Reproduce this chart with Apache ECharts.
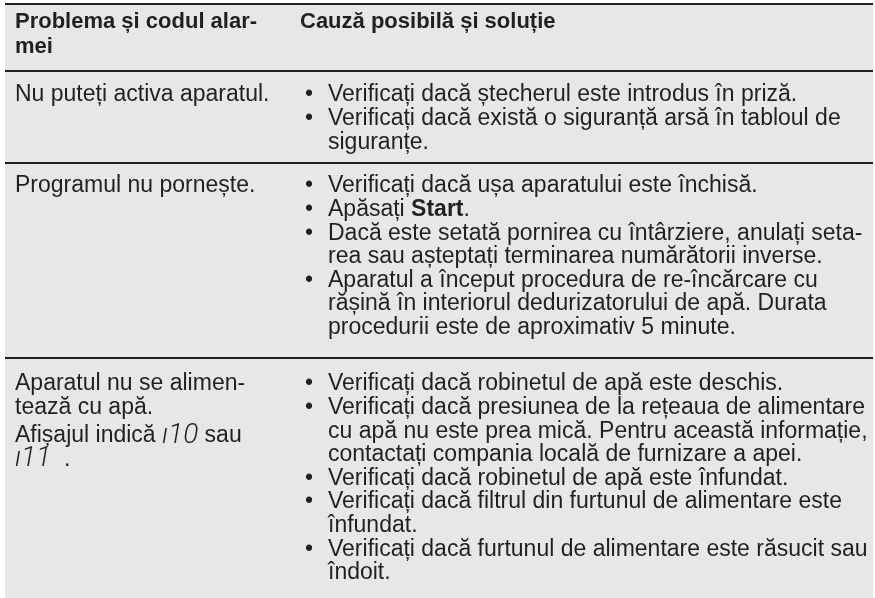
<!DOCTYPE html>
<html><head><meta charset="utf-8">
<script src="https://cdn.jsdelivr.net/npm/echarts@6/dist/echarts.min.js"></script>
<style>html,body{margin:0;padding:0;background:#fff}#c{width:875px;height:598px}</style>
</head><body><div id="c"></div>
<script>
// ---- content ----
const headerLeft = ['Problema și codul alar-', 'mei'];
const headerRight = ['Cauză posibilă și soluție'];
const problems = [
  [['Nu puteți activa aparatul.']],
  [['Programul nu pornește.']],
  [['Aparatul nu se alimen-', 'tează cu apă.'], ['Afișajul indică {seg|ı10} sau', '{seg|ı11}  .']]
];
const causes = [
  [['Verificați dacă ștecherul este introdus în priză.'],
   ['Verificați dacă există o siguranță arsă în tabloul de', 'siguranțe.']],
  [['Verificați dacă ușa aparatului este închisă.'],
   ['Apăsați {b|Start}.'],
   ['Dacă este setată pornirea cu întârziere, anulați seta-', 'rea sau așteptați terminarea numărătorii inverse.'],
   ['Aparatul a început procedura de re-încărcare cu', 'rășină în interiorul dedurizatorului de apă. Durata', 'procedurii este de aproximativ 5 minute.']],
  [['Verificați dacă robinetul de apă este deschis.'],
   ['Verificați dacă presiunea de la rețeaua de alimentare', 'cu apă nu este prea mică. Pentru această informație,', 'contactați compania locală de furnizare a apei.'],
   ['Verificați dacă robinetul de apă este înfundat.'],
   ['Verificați dacă filtrul din furtunul de alimentare este', 'înfundat.'],
   ['Verificați dacă furtunul de alimentare este răsucit sau', 'îndoit.']]
];

// ---- layout / style ----
const FONT = '"Liberation Sans", Arial, Helvetica, sans-serif';
const FS = 23, HFS = 22, LH = 23.6, HLH = 25, PARA = 4.5;
const TXT = '#231f20', BG = '#e6e7e9', LINE = '#231f20';
const X0 = 5, X1 = 873, COL1 = 15, BUL = 305, COL2 = 328, HCOL2 = 300;
const ROW_LINES = [4, 71, 163, 358];      // horizontal rules
const FIRST_OFF = [18, 24, 23, 26];       // rule -> first text line centre
const rich = {
  b: {fontFamily: FONT, fontSize: FS, fontWeight: 'bold', fill: TXT},
  seg: {fontFamily: 'Roboto, "DejaVu Sans", sans-serif', fontSize: 28, fontStyle: 'italic', fontWeight: 300, fill: TXT}
};
const els = [];
els.push({type: 'rect', shape: {x: X0, y: 3, width: X1 - X0, height: 598}, style: {fill: BG}, silent: true});
function txt(x, y, s, bold, size) {
  els.push({type: 'text', x: x, y: y, style: {text: s, fontFamily: FONT, fontSize: size || FS, fontWeight: bold ? 'bold' : 'normal', fill: TXT, verticalAlign: 'middle', align: 'left', rich: rich}, silent: true});
}
function hline(y) {
  els.push({type: 'line', shape: {x1: X0, y1: y, x2: X1, y2: y}, style: {stroke: LINE, lineWidth: 2}, silent: true});
}
ROW_LINES.forEach(hline);
// header
headerLeft.forEach((s, i) => txt(COL1, ROW_LINES[0] + FIRST_OFF[0] + i * HLH, s, true, HFS));
headerRight.forEach((s, i) => txt(HCOL2, ROW_LINES[0] + FIRST_OFF[0] + i * HLH, s, true, HFS));
// body rows
for (let r = 0; r < causes.length; r++) {
  const y = ROW_LINES[r + 1] + FIRST_OFF[r + 1];
  let yl = y;
  problems[r].forEach((para, pi) => {
    if (pi > 0) yl += PARA;
    para.forEach(s => { txt(COL1, yl, s); yl += LH; });
  });
  let yr = y;
  causes[r].forEach(item => {
    txt(BUL, yr, '•');
    item.forEach(s => { txt(COL2, yr, s); yr += LH; });
  });
}
const chart = echarts.init(document.getElementById('c'), null, {renderer: 'canvas'});
chart.setOption({animation: false, graphic: {elements: els}});
</script></body></html>
